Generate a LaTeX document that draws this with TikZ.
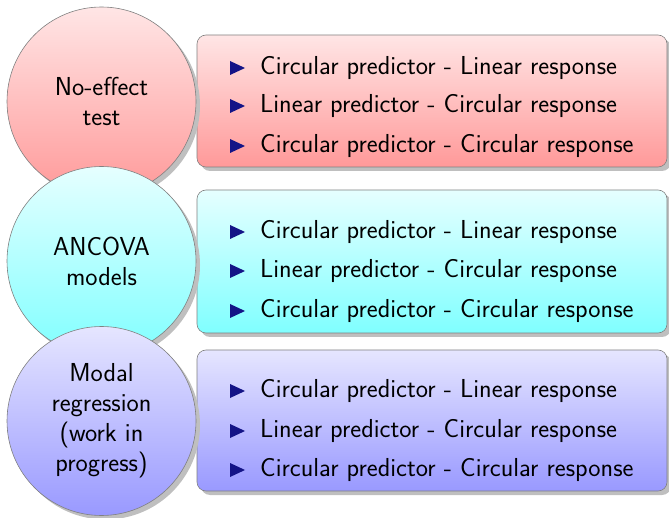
\documentclass[tikz,border=0pt]{standalone}
\usetikzlibrary{shadows,calc}
\definecolor{bul}{RGB}{20,20,135}
\definecolor{bord}{RGB}{128,128,128}
\tikzset{
  every node/.style={font=\sffamily\fontsize{26}{30}\selectfont},
  shad/.style={drop shadow={shadow xshift=4pt,shadow yshift=-4pt,fill=black!25,opacity=1}},
  circ/.style={circle,draw=bord,line width=0.6pt,minimum size=189pt,inner sep=0pt,align=center,shad},
  boxs/.style={draw=bord,line width=0.6pt,rounded corners=9pt,shad},
  itemtxt/.style={anchor=west,inner sep=0pt},
  redsh/.style={top color=red!10,bottom color=red!40},
  cyansh/.style={top color=cyan!10,bottom color=cyan!50},
  bluesh/.style={top color=blue!10,bottom color=blue!40},
}
\begin{document}
\begin{tikzpicture}[x=1pt,y=-1pt]
\useasboundingbox (0,0) rectangle (669,518);
% boxes
\path[boxs,redsh] (197,35) rectangle (667,167);
\path[boxs,cyansh] (197,190) rectangle (667,333);
\path[boxs,bluesh] (197,350) rectangle (667,491);
% circles
\node[circ,redsh] (c1) at (101.5,101.5) {No-effect\\test};
\node[circ,cyansh] (c2) at (101.5,261) {ANCOVA\\models};
\node[circ,bluesh] (c3) at (101.5,421) {Modal\\regression\\(work in\\progress)};
% items
\foreach \y/\t [count=\i] in {68/{Circular predictor - Linear response},106/{Linear predictor - Circular response},146/{Circular predictor - Circular response},
  232/{Circular predictor - Linear response},271/{Linear predictor - Circular response},311/{Circular predictor - Circular response},
  391/{Circular predictor - Linear response},431/{Linear predictor - Circular response},470/{Circular predictor - Circular response}}{
  \node[itemtxt] (it\i) at (260,\y) {\t};
  \fill[bul] ($(it\i.west)+(-30,-7)$) -- ++(0,14) -- ++(15,-7) -- cycle;
}
\end{tikzpicture}
\end{document}
